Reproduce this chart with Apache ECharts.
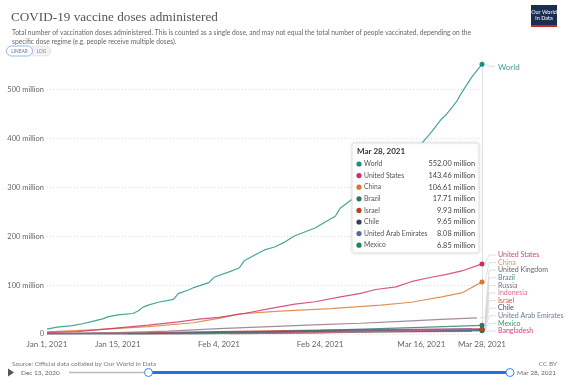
<!DOCTYPE html>
<html>
<head>
<meta charset="utf-8">
<script src="https://cdn.jsdelivr.net/npm/echarts@6/dist/echarts.min.js"></script>
<style>
html, body { margin: 0; padding: 0; background: #fff; }
#main { width: 569px; height: 377px; }
</style>
</head>
<body>
<div id="main"></div>
<script>
// days counted from Jan 1, 2021 ; values in millions of doses
var xTickDays = [0, 14, 34, 54, 74, 86];
var yTicks = [0, 100, 200, 300, 400, 500];

var world = [[0,10],[2,14],[5,17],[7,21],[9,26],[11,31],[12,35],[14,39],[17,42],[18,47],[19,55],[20,59],[22,65],[25,71],[26,83],[28,90],[29,95],[32,105],[33,116],[36,127],[38,135],[39,150],[41,161],[43,172],[45,178],[47,188],[49,201],[53,217],[55,229],[57,241],[58,258],[60,273],[63,291],[66,316],[69,342],[71,364],[74,389],[76,413],[78,440],[79,450],[81,476],[82,494],[84,526],[86,552.00]];
var unitedStates = [[0,2.8],[6,4.7],[13,11.5],[20,18],[26,25],[30,30.5],[34,34],[39,42],[44,52],[49,61],[53,66],[58,76],[62,83],[65,91],[69,96.5],[72,107],[75,114],[79,122],[82,129],[86,143.46]];
var china = [[0,4.5],[10,9],[20,15],[29,23],[31,27],[34,32],[38,41],[46,47],[56,52],[66,59],[72,65],[78,76],[82,84],[86,106.61]];
var unitedKingdom = [[0,1],[14,3],[24,6],[34,11],[44,15],[54,19],[62,22],[70,26],[78,30],[85,33]];
var brazil = [[16,0.01],[26,1.5],[34,3.5],[44,5],[54,7.5],[64,10.5],[74,13.5],[86,17.71]];
var russia = [[0,0.8],[14,1.0],[34,3.0],[54,6.0],[70,8.5],[84,11.0]];
var indonesia = [[12,0.01],[20,0.3],[34,1.1],[44,1.8],[54,2.8],[64,5.0],[74,7.3],[85,10.5]];
var israel = [[0,1.0],[10,1.9],[20,3.0],[34,5.0],[44,6.5],[54,8.0],[64,8.9],[74,9.5],[86,9.93]];
var chile = [[0,0.01],[30,0.05],[33,0.8],[40,2.8],[48,4.5],[56,6.0],[66,7.5],[76,8.6],[86,9.65]];
var uae = [[0,0.5],[10,1.0],[20,2.0],[34,3.8],[44,5.0],[54,5.9],[64,6.8],[74,7.5],[86,8.08]];
var mexico = [[0,0.03],[14,0.3],[24,0.6],[34,0.7],[44,1.3],[54,2.4],[64,4.5],[74,5.5],[86,6.85]];
var bangladesh = [[36,0.03],[40,0.8],[46,2.5],[54,3.9],[64,4.5],[74,5.0],[84,5.5]];

var countries = [
    { name: 'World', data: world, color: '#17907f', label: '#3d9a8e' },
    { name: 'United States', data: unitedStates, color: '#cf2a6a', label: '#d0457a' },
    { name: 'China', data: china, color: '#d9772f', label: '#de9066' },
    { name: 'United Kingdom', data: unitedKingdom, color: '#8a6e86', label: '#6d5e78' },
    { name: 'Brazil', data: brazil, color: '#2f7565', label: '#4a8a7a' },
    { name: 'Russia', data: russia, color: '#8a6a96', label: '#7a6a8a' },
    { name: 'Indonesia', data: indonesia, color: '#d8658e', label: '#d87090' },
    { name: 'Israel', data: israel, color: '#bd4220', label: '#d06040' },
    { name: 'Chile', data: chile, color: '#3b3b5e', label: '#4a4a60' },
    { name: 'United Arab Emirates', data: uae, color: '#55669c', label: '#6a7aa0' },
    { name: 'Mexico', data: mexico, color: '#1d8a50', label: '#3a9a6a' },
    { name: 'Bangladesh', data: bangladesh, color: '#d63c78', label: '#d84080' }
];

var tooltipNames = ['World', 'United States', 'China', 'Brazil', 'Israel', 'Chile', 'United Arab Emirates', 'Mexico'];
var sideLabels = ['United States', 'China', 'United Kingdom', 'Brazil', 'Russia', 'Indonesia', 'Israel', 'Chile', 'United Arab Emirates', 'Mexico', 'Bangladesh'];

var MONTHS = ['Jan', 'Feb', 'Mar', 'Apr', 'May', 'Jun', 'Jul', 'Aug', 'Sep', 'Oct', 'Nov', 'Dec'];
function dayLabel(d) {
    var dt = new Date(Date.UTC(2021, 0, 1 + d));
    return MONTHS[dt.getUTCMonth()] + ' ' + dt.getUTCDate() + ', ' + dt.getUTCFullYear();
}
function byName(n) {
    for (var i = 0; i < countries.length; i++) if (countries[i].name === n) return countries[i];
}

var chart = echarts.init(document.getElementById('main'));

var series = countries.map(function (c, idx) {
    var last = c.data[c.data.length - 1];
    var showDot = tooltipNames.indexOf(c.name) >= 0;
    var data = c.data.map(function (p, i) {
        if (i === c.data.length - 1 && showDot) {
            return { value: p, symbol: 'circle', symbolSize: 5 };
        }
        return p;
    });
    var s = {
        name: c.name,
        type: 'line',
        data: data,
        symbol: 'none',
        z: 20 - idx,
        color: c.color,
        lineStyle: { width: 1.2, opacity: 0.8 },
        itemStyle: { color: c.color },
        silent: true,
        animation: false
    };
    if (c.name === 'World') {
        s.endLabel = {
            show: true, formatter: 'World', color: c.label, fontSize: 8,
            fontFamily: 'Lato', distance: 16, offset: [0, 3]
        };
        s.markLine = {
            silent: true, symbol: 'none', label: { show: false },
            lineStyle: { color: '#e2e2e2', type: 'solid', width: 1 },
            data: [{ xAxis: last[0] }]
        };
    }
    return s;
});

var option = {
    animation: false,
    textStyle: { fontFamily: 'Lato' },
    title: [
        { text: 'COVID-19 vaccine doses administered', left: 6, top: 6,
          textStyle: { fontFamily: 'Liberation Serif', fontSize: 13.2, fontWeight: 'normal', color: '#555' } },
        { text: 'Total number of vaccination doses administered. This is counted as a single dose, and may not equal the total number of people vaccinated, depending on the\nspecific dose regime (e.g. people receive multiple doses).',
          left: 7, top: 23,
          textStyle: { fontFamily: 'Lato', fontSize: 6.7, fontWeight: 'normal', color: '#666', lineHeight: 9 } },
        { text: 'Source: Official data collated by Our World in Data', left: 7, top: 355,
          textStyle: { fontFamily: 'Lato', fontSize: 6.5, fontWeight: 'normal', color: '#777' } },
        { text: 'CC BY', right: 7, top: 355,
          textStyle: { fontFamily: 'Lato', fontSize: 6.5, fontWeight: 'normal', color: '#777' } }
    ],
    grid: { left: 47, right: 87, top: 60.3, bottom: 43 },
    xAxis: {
        type: 'value', min: 0, max: 86,
        axisLine: { show: false }, axisTick: { show: false }, splitLine: { show: false },
        axisLabel: {
            customValues: xTickDays, formatter: function (v) { return dayLabel(v); },
            fontSize: 8, color: '#666', margin: 6
        }
    },
    yAxis: {
        type: 'value', min: 0, max: 560, interval: 100,
        axisLine: { show: false }, axisTick: { show: false },
        splitLine: { show: true, showMaxLine: false, lineStyle: { color: '#ddd', type: [1, 2] } },
        axisLabel: {
            customValues: yTicks,
            formatter: function (v) { return v === 0 ? '0' : v + ' million'; },
            fontSize: 7.5, color: '#666', margin: 3
        }
    },
    series: series
};
chart.setOption(option);

// overlay: tooltip box, side labels with leader lines, header controls, timeline
var g = [];

// logo
g.push({ type: 'rect', shape: { x: 531, y: 5, width: 26, height: 22 }, style: { fill: '#1a2e54' } });
g.push({ type: 'rect', shape: { x: 531, y: 25, width: 26, height: 2 }, style: { fill: '#ce261e' } });
g.push({ type: 'text', style: { text: 'Our World\nin Data', x: 544, y: 15, fill: '#fff', font: '5.5px Lato', textAlign: 'center', textVerticalAlign: 'middle', lineHeight: 6.5 } });

// linear / log buttons
g.push({ type: 'rect', shape: { x: 32, y: 46, width: 19, height: 10, r: [0, 5, 5, 0] }, style: { fill: '#f2f2f2', stroke: '#ddd', lineWidth: 0.6 } });
g.push({ type: 'rect', shape: { x: 6.5, y: 46, width: 26, height: 10, r: 5 }, style: { fill: '#fff', stroke: '#7ba7dc', lineWidth: 0.8 } });
g.push({ type: 'text', style: { text: 'LINEAR', x: 19.5, y: 51, fill: '#5577aa', font: '4.8px Lato', textAlign: 'center', textVerticalAlign: 'middle' } });
g.push({ type: 'text', style: { text: 'LOG', x: 41.5, y: 51, fill: '#888', font: '4.8px Lato', textAlign: 'center', textVerticalAlign: 'middle' } });

// side labels with leader lines
var knee = 489;
var worldEnd = world[world.length - 1];
var wp = chart.convertToPixel({ gridIndex: 0 }, worldEnd);
g.push({ type: 'polyline', shape: { points: [[wp[0] + 4, wp[1]], [knee, wp[1] + 2], [495, wp[1] + 2]] }, style: { stroke: '#ccc', lineWidth: 0.7, fill: null }, z: 1 });

sideLabels.forEach(function (n, i) {
    var c = byName(n);
    var last = c.data[c.data.length - 1];
    var p = chart.convertToPixel({ gridIndex: 0 }, last);
    var ly = 255 + i * 7.6;
    g.push({ type: 'polyline', shape: { points: [[p[0] + 3, p[1]], [knee - 4, p[1]], [knee, ly], [496, ly]] },
             style: { stroke: '#d2d2d2', lineWidth: 0.7, fill: null }, z: 1 });
    g.push({ type: 'text', style: { text: n, x: 498, y: ly, fill: c.label, font: '7px Lato', textVerticalAlign: 'middle' }, z: 5 });
});

// tooltip box
var tx = 352, ty = 143, tw = 127, th = 110;
g.push({ type: 'rect', shape: { x: tx, y: ty, width: tw, height: th, r: 2 },
         style: { fill: '#fff', stroke: '#ddd', lineWidth: 0.8, shadowBlur: 4, shadowColor: 'rgba(0,0,0,0.12)' }, z: 50 });
g.push({ type: 'text', style: { text: dayLabel(worldEnd[0]), x: tx + 5, y: ty + 8.5, fill: '#333', font: 'bold 8px Lato', textVerticalAlign: 'middle' }, z: 51 });
tooltipNames.forEach(function (n, i) {
    var c = byName(n);
    var v = c.data[c.data.length - 1][1];
    var ry = ty + 21 + i * 11.6;
    g.push({ type: 'circle', shape: { cx: tx + 7, cy: ry, r: 2.6 }, style: { fill: c.color }, z: 51 });
    g.push({ type: 'text', style: { text: n, x: tx + 12, y: ry, fill: '#555', font: '6.8px Lato', textVerticalAlign: 'middle' }, z: 51 });
    g.push({ type: 'text', style: { text: v.toFixed(2) + ' million', x: tx + tw - 4, y: ry, fill: '#444', font: '7.4px Lato', textAlign: 'right', textVerticalAlign: 'middle' }, z: 51 });
});

// timeline
var tly = 372.5;
g.push({ type: 'polygon', shape: { points: [[8, tly - 4], [8, tly + 4], [14, tly]] }, style: { fill: '#555' } });
g.push({ type: 'text', style: { text: 'Dec 13, 2020', x: 21, y: tly, fill: '#666', font: '6.5px Lato', textVerticalAlign: 'middle' } });
g.push({ type: 'line', shape: { x1: 69, y1: tly, x2: 148.5, y2: tly }, style: { stroke: '#bbb', lineWidth: 1.5 } });
g.push({ type: 'line', shape: { x1: 148.5, y1: tly, x2: 510, y2: tly }, style: { stroke: '#1f74e0', lineWidth: 3 } });
g.push({ type: 'circle', shape: { cx: 148.5, cy: tly, r: 4 }, style: { fill: '#fff', stroke: '#3a86e6', lineWidth: 1 } });
g.push({ type: 'circle', shape: { cx: 510, cy: tly, r: 4 }, style: { fill: '#fff', stroke: '#3a86e6', lineWidth: 1 } });
g.push({ type: 'text', style: { text: dayLabel(worldEnd[0]), x: 517, y: tly, fill: '#666', font: '6.5px Lato', textVerticalAlign: 'middle' } });

chart.setOption({ graphic: g });

window.onresize = function () {
    chart.resize();
};
</script>
</body>
</html>
